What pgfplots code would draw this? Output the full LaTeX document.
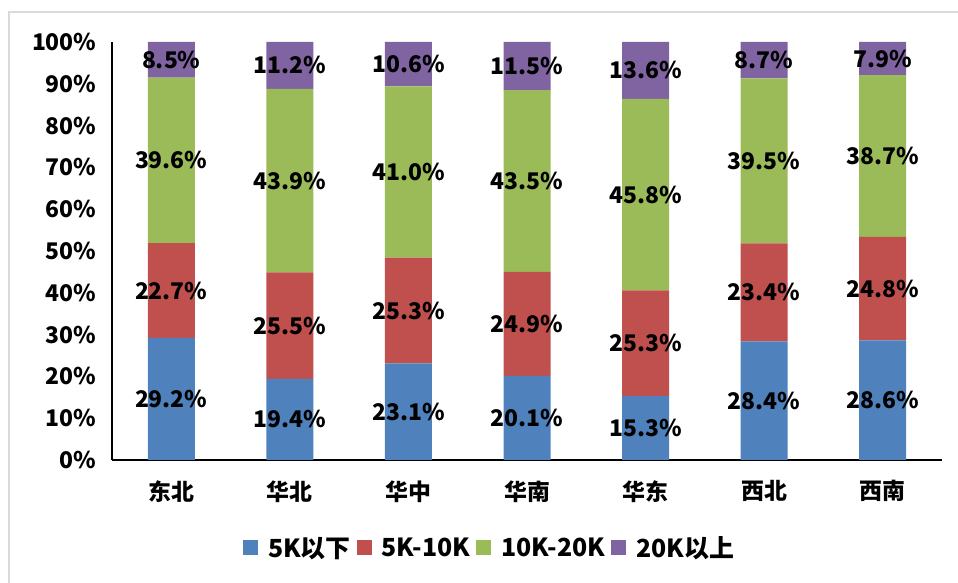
\documentclass[border=0pt]{standalone}
\usepackage{fontspec}
\setmainfont{Noto Sans CJK SC}
\usepackage{pgfplots}
\usepackage{pgfplotstable}
\pgfplotsset{compat=1.18}

\definecolor{cblue}{HTML}{4F81BD}
\definecolor{cred}{HTML}{C0504D}
\definecolor{cgreen}{HTML}{9BBB59}
\definecolor{cpurple}{HTML}{8064A2}
\definecolor{frame}{HTML}{D9D9D9}

% salary bands by region, in percent
\pgfplotstableread{
x a b c d
0 29.2 22.7 39.6 8.5
1 19.4 25.5 43.9 11.2
2 23.1 25.3 41.0 10.6
3 20.1 24.9 43.5 11.5
4 15.3 25.3 45.8 13.6
5 28.4 23.4 39.5 8.7
6 28.6 24.8 38.7 7.9
}\salarytable

\newcommand{\lblfont}{\fontsize{23}{27}\selectfont\bfseries}
\newcommand{\legfont}{\fontsize{25}{29}\selectfont\bfseries}

% value label in the middle of each stacked segment
\pgfplotsset{
  seglabel/.style={
    point meta=explicit,
    nodes near coords={\pgfmathprintnumber[fixed,fixed zerofill,precision=1]{\pgfplotspointmeta}\%},
    every node near coord/.append style={anchor=center, text=black,
      font=\lblfont},
  }
}

\begin{document}
\begin{tikzpicture}
\path[use as bounding box] (0,0) rectangle (958bp,583bp);
\draw[frame, line width=1.2bp] (9bp,0) -- (9bp,571bp) -- (958bp,571bp);
\begin{axis}[
  at={(112bp,123bp)}, anchor=south west,
  scale only axis, width=830bp, height=418bp,
  ybar stacked, bar width=47bp,
  xmin=-0.5, xmax=6.5, ymin=0, ymax=100,
  axis x line*=bottom, axis y line*=left,
  axis line style={black, line width=1.2bp, -},
  xtick=data,
  xticklabels={东北,华北,华中,华南,华东,西北,西南},
  ytick={0,10,...,100},
  yticklabel={\pgfmathprintnumber{\tick}\%},
  /pgf/number format/assume math mode=true,
  major tick length=0pt,
  tick label style={font=\lblfont},
  xticklabel style={yshift=-17bp},
  yticklabel style={xshift=-12bp},
  legend columns=4,
  legend style={at={(0.455,-0.2105)}, anchor=center, draw=none, fill=none,
    font=\legfont, column sep=8bp, nodes={inner sep=2bp},
    /tikz/every even column/.append style={column sep=4bp}},
  legend image code/.code={\fill[#1, draw=none] (0bp,-7.5bp) rectangle (15bp,7.5bp);},
]
\addplot[fill=cblue, draw=none, seglabel] table[x=x, y=a, meta=a] {\salarytable};
\addplot[fill=cred, draw=none, seglabel] table[x=x, y=b, meta=b] {\salarytable};
\addplot[fill=cgreen, draw=none, seglabel] table[x=x, y=c, meta=c] {\salarytable};
\addplot[fill=cpurple, draw=none, seglabel] table[x=x, y=d, meta=d] {\salarytable};
\legend{5K以下,5K-10K,10K-20K,20K以上}
\end{axis}
\end{tikzpicture}
\end{document}
